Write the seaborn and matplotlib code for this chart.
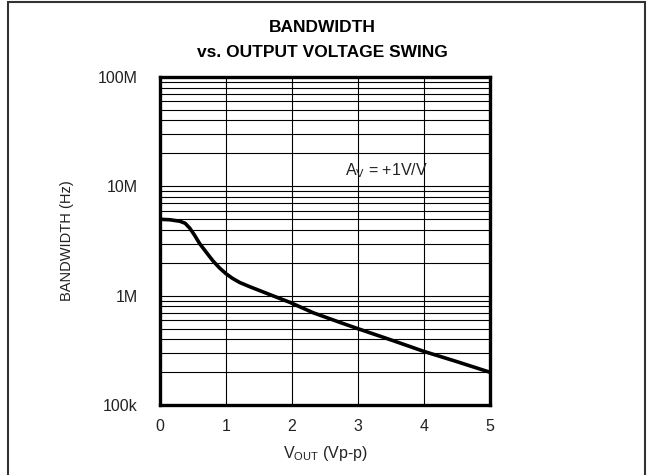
import matplotlib.pyplot as plt
import seaborn as sns
import numpy as np
import pandas as pd
from matplotlib.ticker import FixedLocator, LogLocator, NullFormatter
from matplotlib.patches import Rectangle

# curve
vout = [0.0, 0.15, 0.3, 0.38, 0.45, 0.52, 0.6, 0.7, 0.8, 0.9, 1.0, 1.1, 1.21, 1.36,
        1.71, 1.97, 2.32, 2.73, 3.0, 3.5, 4.0, 4.5, 5.0]
bandwidth = [5.0e6, 4.95e6, 4.8e6, 4.6e6, 4.15e6, 3.6e6, 3.0e6, 2.5e6, 2.09e6, 1.8e6,
             1.59e6, 1.44e6, 1.32e6, 1.21e6, 1.0e6, 8.7e5, 7.0e5, 5.7e5, 5.0e5,
             3.95e5, 3.1e5, 2.5e5, 2.0e5]

y_ticks = [1e5, 1e6, 1e7, 1e8]
y_ticklabels = ["100k", "1M", "10M", "100M"]
x_ticks = [0, 1, 2, 3, 4, 5]

df = pd.DataFrame({"vout": vout, "bw": bandwidth})

sns.set_style("white")
plt.rcParams["font.family"] = ["Liberation Sans", "DejaVu Sans"]

fig = plt.figure(figsize=(6.48, 4.75), dpi=100)
ax = fig.add_axes([0.247, 0.147, 0.509, 0.691])

sns.lineplot(data=df, x="vout", y="bw", ax=ax, color="black", linewidth=2.6)

ax.set_yscale("log")
ax.set_xlim(0, 5)
ax.set_ylim(1e5, 1e8)

ax.xaxis.set_major_locator(FixedLocator(x_ticks))
ax.set_yticks(y_ticks)
ax.set_yticklabels(y_ticklabels)
ax.yaxis.set_minor_locator(LogLocator(base=10, subs=np.arange(2, 10)))
ax.yaxis.set_minor_formatter(NullFormatter())

ax.grid(True, which="major", axis="both", color="black", linewidth=0.8)
ax.grid(True, which="minor", axis="y", color="black", linewidth=0.8)
ax.tick_params(axis="both", which="both", length=0, labelsize=11.5, colors="#222222")
ax.tick_params(axis="x", pad=10)
ax.tick_params(axis="y", pad=16)

for s in ax.spines.values():
    s.set_color("black")
    s.set_linewidth(2.4)

ax.set_xlabel("V$_{\\mathregular{OUT}}$ (Vp-p)", fontsize=11.5, color="#222222", labelpad=7)
ax.set_ylabel("BANDWIDTH (Hz)", fontsize=10.5, color="#222222", labelpad=17)

ax.text(2.8, 1.4e7, "A$_{\\mathregular{V}}$ = +1V/V", fontsize=11.5, color="#222222",
        va="center", ha="left")

fig.text(0.497, 0.943, "BANDWIDTH", ha="center", va="center", fontsize=12.5,
         fontweight="bold", color="black")
fig.text(0.497, 0.89, "vs. OUTPUT VOLTAGE SWING", ha="center", va="center", fontsize=12.5,
         fontweight="bold", color="black")

# outer frame of the datasheet figure
fig.patches.append(Rectangle((0.013, -0.05), 0.982, 1.045, transform=fig.transFigure,
                             fill=False, edgecolor="#333333", linewidth=1.5))

fig.savefig("out.png", dpi=100)
